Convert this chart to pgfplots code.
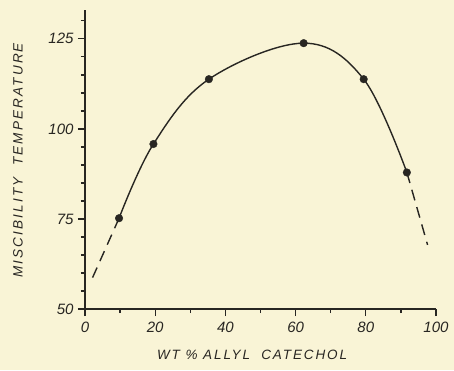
\documentclass[border=0pt]{standalone}
\usepackage{fontspec}
\setmainfont{Liberation Sans}
\usepackage{pgfplots}
\pgfplotsset{compat=1.18}
\definecolor{paper}{RGB}{249,244,214}
\definecolor{ink}{RGB}{40,38,34}
\begin{document}
\begin{tikzpicture}[x=1pt,y=1pt]
\fill[paper] (0,0) rectangle (454,370);
\useasboundingbox (0,0) rectangle (454,370);
\begin{axis}[
  at={(85pt,61pt)}, anchor=south west,
  scale only axis, width=351pt, height=299pt,
  xmin=0, xmax=100, ymin=50, ymax=133,
  axis x line=bottom, axis y line=left,
  axis line style={ink, line width=1.6pt, -},
  xtick={0,20,40,60,80,100}, minor xtick={10,30,50,70,90},
  ytick={50,75,100,125}, minor ytick={55,60,65,70,80,85,90,95,105,110,115,120,130},
  tick align=outside, major tick length=7pt, minor tick length=4pt,
  every tick/.style={ink, line width=1.3pt},
  /pgf/number format/assume math mode=true,
  tick label style={font=\fontsize{15}{16}\selectfont\itshape, text=ink},
  xticklabel style={yshift=-2pt},
  yticklabel style={xshift=-1pt},
  xlabel={\addfontfeatures{LetterSpace=14}WT \%\ ALLYL\ \ CATECHOL},
  ylabel={\addfontfeatures{LetterSpace=16}MISCIBILITY\ \ TEMPERATURE},
  label style={font=\fontsize{13.5}{15}\selectfont\itshape, text=ink},
  xlabel style={at={(axis description cs:0.476,0)}, anchor=center, yshift=-46pt},
  ylabel style={at={(axis description cs:0,0.497)}, anchor=center, xshift=0pt, yshift=67pt},
  clip=false,
]
\addplot[ink, line width=1.4pt, smooth, tension=0.6] coordinates {
  (9.7,75.2) (19.5,95.8) (35.3,113.8) (62.3,123.8) (79.4,113.8) (91.7,87.9)
};
\addplot[ink, line width=1.4pt, dash pattern=on 11pt off 7pt] coordinates {
  (9.7,75.2) (1.6,57.5)
};
\addplot[ink, line width=1.4pt, dash pattern=on 11pt off 7pt] coordinates {
  (91.7,87.9) (97.6,67.8)
};
\addplot[only marks, mark=*, mark size=3.8pt, ink] coordinates {
  (9.7,75.2) (19.5,95.8) (35.3,113.8) (62.3,123.8) (79.4,113.8) (91.7,87.9)
};
\end{axis}
\end{tikzpicture}
\end{document}
